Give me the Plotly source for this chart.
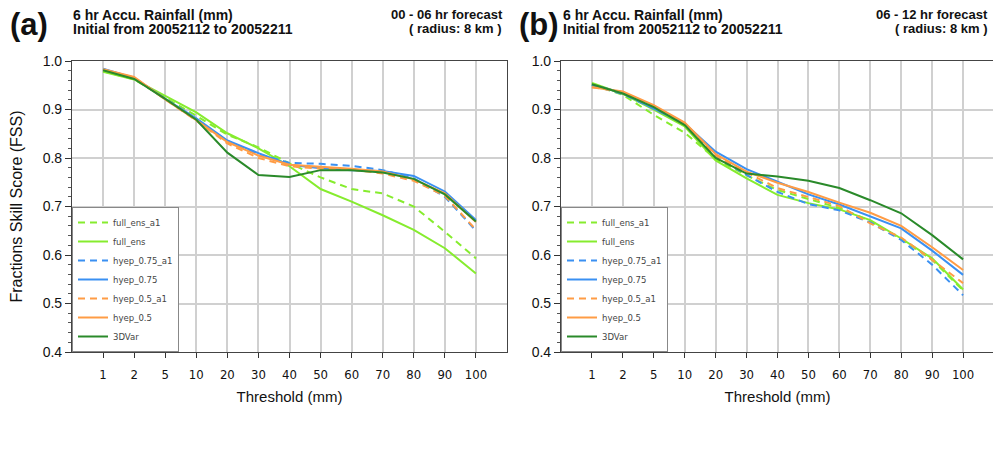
import plotly.graph_objects as go

thresholds = ["1", "2", "5", "10", "20", "30", "40", "50", "60", "70", "80", "90", "100"]
series_names = ["full_ens_a1", "full_ens", "hyep_0.75_a1", "hyep_0.75", "hyep_0.5_a1", "hyep_0.5", "3DVar"]

# Panel (a): 00-06 hr forecast
full_ens_a1_a = [0.979, 0.962, 0.924, 0.887, 0.848, 0.822, 0.789, 0.760, 0.736, 0.727, 0.700, 0.648, 0.593]
full_ens_a = [0.978, 0.962, 0.928, 0.894, 0.851, 0.820, 0.783, 0.736, 0.710, 0.682, 0.652, 0.614, 0.562]
hyep075_a1_a = [0.983, 0.965, 0.922, 0.880, 0.835, 0.808, 0.790, 0.788, 0.784, 0.775, 0.758, 0.720, 0.650]
hyep075_a = [0.984, 0.965, 0.922, 0.882, 0.836, 0.810, 0.786, 0.779, 0.775, 0.773, 0.763, 0.731, 0.672]
hyep05_a1_a = [0.982, 0.966, 0.921, 0.877, 0.830, 0.800, 0.783, 0.778, 0.776, 0.768, 0.753, 0.722, 0.652]
hyep05_a = [0.983, 0.967, 0.921, 0.878, 0.833, 0.805, 0.786, 0.782, 0.778, 0.772, 0.756, 0.727, 0.668]
var3d_a = [0.981, 0.963, 0.922, 0.879, 0.811, 0.765, 0.761, 0.775, 0.775, 0.770, 0.757, 0.725, 0.669]

# Panel (b): 06-12 hr forecast
full_ens_a1_b = [0.952, 0.930, 0.889, 0.852, 0.798, 0.764, 0.734, 0.715, 0.697, 0.670, 0.633, 0.590, 0.527]
full_ens_b = [0.955, 0.932, 0.900, 0.865, 0.795, 0.758, 0.724, 0.707, 0.694, 0.672, 0.634, 0.593, 0.529]
hyep075_a1_b = [0.950, 0.932, 0.902, 0.870, 0.803, 0.765, 0.730, 0.705, 0.692, 0.667, 0.631, 0.580, 0.517]
hyep075_b = [0.951, 0.934, 0.902, 0.871, 0.813, 0.777, 0.751, 0.725, 0.704, 0.680, 0.655, 0.609, 0.559]
hyep05_a1_b = [0.946, 0.936, 0.906, 0.872, 0.805, 0.770, 0.738, 0.720, 0.701, 0.665, 0.636, 0.590, 0.542]
hyep05_b = [0.946, 0.937, 0.909, 0.873, 0.808, 0.772, 0.749, 0.730, 0.708, 0.687, 0.660, 0.616, 0.569]
var3d_b = [0.952, 0.933, 0.905, 0.868, 0.800, 0.768, 0.762, 0.753, 0.738, 0.713, 0.686, 0.641, 0.591]

panel_a = [full_ens_a1_a, full_ens_a, hyep075_a1_a, hyep075_a, hyep05_a1_a, hyep05_a, var3d_a]
panel_b = [full_ens_a1_b, full_ens_b, hyep075_a1_b, hyep075_b, hyep05_a1_b, hyep05_b, var3d_b]

colors = ["#86EC2E", "#86EC2E", "#3A90F2", "#3A90F2", "#FF9C45", "#FF9C45", "#2A8A2A"]
dashes = ["7px,5px", "solid", "7px,5px", "solid", "7px,5px", "solid", "solid"]

# page has an 8px body margin; size the figure so the page is exactly 1001x451
OFF = 8
W, H = 1001 - OFF, 451 - 2 * OFF
def px_x(p): return (p - OFF) / W
def px_y(p): return 1 - (p - OFF) / H

fig = go.Figure()
for panel, xa, ya, leg in [(panel_a, "x", "y", "legend"), (panel_b, "x2", "y2", "legend2")]:
    for name, vals, c, d in zip(series_names, panel, colors, dashes):
        fig.add_trace(go.Scatter(
            x=thresholds, y=vals, name=name, mode="lines",
            line=dict(color=c, width=2, dash=d),
            xaxis=xa, yaxis=ya, legend=leg, showlegend=True,
        ))

narrow = "Liberation Sans Narrow, Arial Narrow, DejaVu Sans Condensed, Liberation Sans, sans-serif"
sans = "Liberation Sans, Arial, Helvetica, sans-serif"
tick_font = dict(family=narrow, size=13, color="#111")
xax = dict(type="category", range=[-1, 13], showgrid=True, gridcolor="#d0d0d0", gridwidth=1.5,
           ticks="outside", ticklen=5, tickcolor="#333", showline=True, linecolor="#444", linewidth=1.2,
           mirror=True, tickfont=tick_font, zeroline=False, automargin=False, ticklabelstandoff=5,
           title=dict(text="Threshold (mm)", font=dict(family=sans, size=15, color="#111"), standoff=10))
yax = dict(range=[0.4, 1.0], dtick=0.1, tickformat=".1f", showgrid=True, gridcolor="#d0d0d0", gridwidth=1.5,
           ticks="outside", ticklen=6, tickcolor="#333", showline=True, linecolor="#444", linewidth=1.2,
           mirror=True, tickfont=dict(family=sans, size=14, color="#111"), zeroline=False, automargin=False,
           minor=dict(dtick=0.02, ticks="outside", ticklen=3, tickcolor="#555", showgrid=False))

ydom = [px_y(352), px_y(61)]
leg_common = dict(xanchor="left", yanchor="bottom", bgcolor="white", bordercolor="#888", borderwidth=1,
                  font=dict(family=narrow, size=9.5, color="#444"), itemwidth=30, tracegroupgap=0)
fig.update_layout(
    width=W, height=H, margin=dict(l=0, r=0, t=0, b=0),
    plot_bgcolor="white", paper_bgcolor="white",
    xaxis=dict(xax, domain=[px_x(72), px_x(507)], anchor="y"),
    yaxis=dict(yax, domain=ydom, anchor="x",
               title=dict(text="Fractions Skill Score (FSS)", font=dict(family=sans, size=16, color="#111"), standoff=22)),
    xaxis2=dict(xax, domain=[px_x(561), px_x(994)], anchor="y2"),
    yaxis2=dict(yax, domain=ydom, anchor="x2"),
    legend=dict(leg_common, x=px_x(72), y=px_y(352)),
    legend2=dict(leg_common, x=px_x(561), y=px_y(352)),
)

bold14 = dict(family=sans, size=14, color="#111")
bold_r = dict(family=sans, size=13, color="#111")
big = dict(family=sans, size=31, color="#111")
annots = [
    dict(text="<b>(a)</b>", x=px_x(8), y=px_y(24), xanchor="left", yanchor="middle", font=big),
    dict(text="<b>6 hr Accu. Rainfall (mm)</b>", x=px_x(71), y=px_y(15), xanchor="left", yanchor="middle", font=bold14),
    dict(text="<b>Initial from 20052112 to 20052211</b>", x=px_x(71), y=px_y(29), xanchor="left", yanchor="middle", font=bold14),
    dict(text="<b>00 - 06 hr forecast</b>", x=px_x(505), y=px_y(15), xanchor="right", yanchor="middle", font=bold_r),
    dict(text="<b>( radius: 8 km )</b>", x=px_x(455), y=px_y(29), xanchor="center", yanchor="middle", font=bold_r),
    dict(text="<b>(b)</b>", x=px_x(517), y=px_y(24), xanchor="left", yanchor="middle", font=big),
    dict(text="<b>6 hr Accu. Rainfall (mm)</b>", x=px_x(561), y=px_y(15), xanchor="left", yanchor="middle", font=bold14),
    dict(text="<b>Initial from 20052112 to 20052211</b>", x=px_x(561), y=px_y(29), xanchor="left", yanchor="middle", font=bold14),
    dict(text="<b>06 - 12 hr forecast</b>", x=px_x(990), y=px_y(15), xanchor="right", yanchor="middle", font=bold_r),
    dict(text="<b>( radius: 8 km )</b>", x=px_x(941), y=px_y(29), xanchor="center", yanchor="middle", font=bold_r),
]
for a in annots:
    a.update(xref="paper", yref="paper", showarrow=False)
fig.update_layout(annotations=annots)

fig.write_html("out.html")
